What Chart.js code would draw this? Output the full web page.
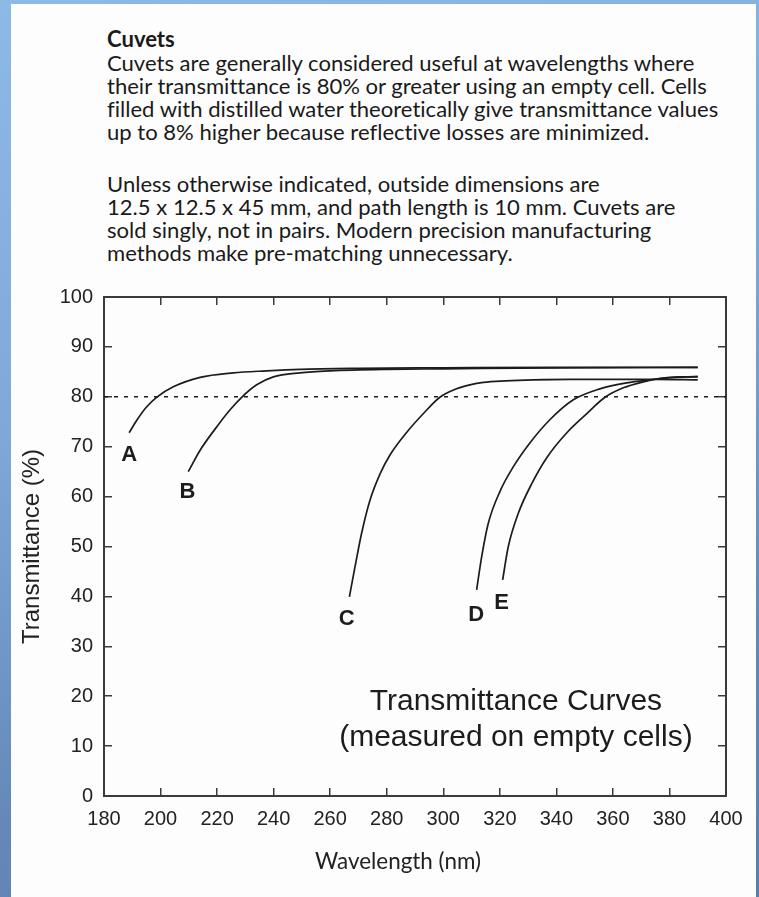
<!DOCTYPE html>
<html>
<head>
<meta charset="utf-8">
<title>Cuvets – transmittance curves</title>
<script src="https://cdn.jsdelivr.net/npm/chart.js@4.4.1/dist/chart.umd.min.js"></script>
<style>
  html, body { margin: 0; padding: 0; }
  body {
    width: 759px; height: 897px; overflow: hidden; position: relative;
    background: linear-gradient(165deg, #8db9e7 0%, #7ea8d8 40%, #6489b9 75%, #5a7eae 100%);
  }
  #sheet { position: absolute; left: 11px; top: 4px; width: 745px; height: 893px; background: #fdfdfd; }
  .copy {
    position: absolute; left: 107px; margin: 0;
    color: #1a1a1a; font-family: Lato, "Open Sans", sans-serif;
    font-variant-ligatures: none;
    white-space: pre; line-height: 23.3px;
  }
  #chartBox { position: absolute; left: 0; top: 280px; width: 759px; height: 617px; }
</style>
</head>
<body>
<div id="sheet"></div>
<div class="copy" id="para1"><b>Cuvets</b>
Cuvets are generally considered useful at wavelengths where
their transmittance is 80% or greater using an empty cell. Cells
filled with distilled water theoretically give transmittance values
up to 8% higher because reflective losses are minimized.</div>
<div class="copy" id="para2">Unless otherwise indicated, outside dimensions are
12.5 x 12.5 x 45 mm, and path length is 10 mm. Cuvets are
sold singly, not in pairs. Modern precision manufacturing
methods make pre-matching unnecessary.</div>
<div id="chartBox"><canvas id="chart" width="759" height="617"></canvas></div>

<script>
// Cell types and their measured transmittance (%) against wavelength (nm)
const curveNames = ['A', 'B', 'C', 'D', 'E'];

const wlA = [188.9, 191.6, 195.1, 198.6, 204.5, 214.0, 225.7, 237.5, 249.3, 270, 300, 340, 390];
const tA  = [72.8, 75.3, 78.0, 79.9, 82.0, 83.9, 84.8, 85.2, 85.5, 85.7, 85.8, 85.9, 85.9];

const wlB = [209.8, 214.0, 219.9, 224.6, 228.7, 234.0, 239.9, 249.3, 260, 280, 300, 340, 390];
const tB  = [65.0, 69.3, 74.0, 77.4, 79.9, 82.4, 84.0, 84.8, 85.2, 85.5, 85.6, 85.8, 85.9];

const wlC = [266.8, 268.8, 271.1, 274.1, 277.6, 281.2, 287.1, 292.9, 298.8, 304.7, 309.4, 314.2, 322, 331.9, 345, 360, 375, 390];
const tC  = [39.9, 46.0, 52.6, 59.3, 64.5, 68.4, 72.9, 76.6, 79.9, 81.6, 82.4, 82.9, 83.2, 83.4, 83.5, 83.5, 83.5, 83.4];

const wlD = [311.8, 313.6, 315.9, 320.1, 324.8, 330.7, 337.7, 346.0, 355.4, 364.9, 373.1, 380, 390];
const tD  = [41.3, 48.0, 54.6, 61.1, 66.0, 70.8, 75.4, 79.4, 81.6, 82.8, 83.4, 83.8, 84.1];

const wlE = [321.0, 323.0, 326.5, 331.3, 336.6, 343.7, 350.7, 357.2, 363.7, 370.8, 376.7, 383, 390];
const tE  = [43.3, 50.0, 56.6, 62.6, 67.8, 72.8, 76.6, 79.9, 81.8, 83.0, 83.7, 84.0, 84.0];

// 80 % usefulness threshold
const thresholdT = 80;

// Axis tick values
const xTickValues = [180, 200, 220, 240, 260, 280, 300, 320, 340, 360, 380, 400];
const yTickValues = [0, 10, 20, 30, 40, 50, 60, 70, 80, 90, 100];

// Where each curve's letter sits (wavelength, transmittance at the letter's baseline)
const labelWl = [188.9, 209.5, 265.8, 311.6, 320.6];
const labelT  = [67.2, 59.8, 34.3, 35.1, 37.4];

// Caption inside the plot
const captionLines = ['Transmittance Curves', '(measured on empty cells)'];
const captionWl = 325.7;
const captionT = [17.2, 10.0];

const xTitle = 'Wavelength (nm)';
const yTitle = 'Transmittance (%)';

// ---- text block sizing ----
const copyFont = 'Lato, "Open Sans", sans-serif';
const measureCtx = document.createElement('canvas').getContext('2d');
function widthAt(text, size, weight) {
  measureCtx.font = (weight || '') + ' ' + size + 'px ' + copyFont;
  return measureCtx.measureText(text).width;
}
const referenceLine = 'Cuvets are generally considered useful at wavelengths where';
const copySize = 16 * 589 / widthAt(referenceLine, 16);
const lineH = 23.3;
const baselineOffset = lineH / 2 + 0.387 * copySize;
const p1 = document.getElementById('para1');
const p2 = document.getElementById('para2');
[p1, p2].forEach(p => { p.style.fontSize = copySize + 'px'; });
p1.style.top = (47.5 - baselineOffset) + 'px';
p2.style.top = (191.7 - baselineOffset) + 'px';

const xTitleSize = 20 * 166 / widthAt(xTitle, 20);

// ---- chart ----
const ink = '#1c1c1c';
const tickFont = { family: '"Liberation Sans", Arial, Helvetica, sans-serif', size: 20 };

function zip(xs, ys) { return xs.map((v, i) => ({ x: v, y: ys[i] })); }

const curveSets = [[wlA, tA], [wlB, tB], [wlC, tC], [wlD, tD], [wlE, tE]].map((pair, i) => ({
  label: curveNames[i],
  data: zip(pair[0], pair[1]),
  borderColor: ink,
  borderWidth: 1.7,
  pointRadius: 0,
  cubicInterpolationMode: 'monotone',
  fill: false
}));

const thresholdSet = {
  label: 'threshold',
  data: [{ x: xTickValues[0], y: thresholdT }, { x: xTickValues[xTickValues.length - 1], y: thresholdT }],
  borderColor: ink,
  borderWidth: 1.6,
  borderDash: [4, 6],
  pointRadius: 0,
  fill: false
};

const axisLine = { display: true, color: '#3a3a3a', width: 2 };
const inwardTicks = { display: true, drawOnChartArea: false, drawTicks: true, tickLength: -8, color: '#3a3a3a', lineWidth: 1.5 };

const plotText = {
  id: 'plotText',
  afterDatasetsDraw(chart) {
    const { ctx } = chart;
    const x = chart.scales.x, y = chart.scales.y;
    ctx.save();
    ctx.fillStyle = ink;
    ctx.textAlign = 'center';
    ctx.textBaseline = 'alphabetic';
    ctx.font = 'bold 22px "Liberation Sans", Arial, sans-serif';
    curveNames.forEach((n, i) => ctx.fillText(n, x.getPixelForValue(labelWl[i]), y.getPixelForValue(labelT[i])));
    ctx.font = '30px "Liberation Sans", Arial, sans-serif';
    captionLines.forEach((t, i) => ctx.fillText(t, x.getPixelForValue(captionWl), y.getPixelForValue(captionT[i])));
    ctx.restore();
  },
  afterDraw(chart) {
    const { ctx, chartArea } = chart;
    ctx.save();
    ctx.fillStyle = '#222';
    ctx.textAlign = 'center';
    ctx.textBaseline = 'alphabetic';
    ctx.font = xTitleSize + 'px ' + copyFont;
    ctx.fillText(xTitle, (chartArea.left + chartArea.right) / 2 - 17, chart.height - 27.7);
    ctx.restore();
  }
};

new Chart(document.getElementById('chart'), {
  type: 'line',
  data: { datasets: [...curveSets, thresholdSet] },
  options: {
    responsive: false,
    animation: false,
    devicePixelRatio: 1,
    layout: { padding: { top: 17, right: 33, left: 0, bottom: 0 } },
    plugins: { legend: { display: false }, tooltip: { enabled: false } },
    scales: {
      x: {
        type: 'linear', position: 'bottom',
        min: xTickValues[0], max: xTickValues[xTickValues.length - 1],
        ticks: { stepSize: 20, padding: 19, color: '#222', font: tickFont, maxRotation: 0, autoSkip: false },
        grid: inwardTicks, border: axisLine,
        afterFit(s) { s.height = 101; s.paddingLeft = 0; s.paddingRight = 0; }
      },
      x2: {
        type: 'linear', position: 'top',
        min: xTickValues[0], max: xTickValues[xTickValues.length - 1],
        ticks: { stepSize: 20, display: false },
        grid: inwardTicks, border: axisLine,
        afterFit(s) { s.height = 0; s.paddingLeft = 0; s.paddingRight = 0; }
      },
      y: {
        type: 'linear', position: 'left',
        min: yTickValues[0], max: yTickValues[yTickValues.length - 1],
        ticks: { stepSize: 10, padding: 19, color: '#222', font: tickFont },
        grid: inwardTicks, border: axisLine,
        title: { display: true, text: yTitle, color: '#222', padding: { top: 17.6, bottom: 0 },
                 font: { family: '"Liberation Sans", Arial, Helvetica, sans-serif', size: 24 } },
        afterFit(s) { s.width = 104; s.paddingTop = 0; s.paddingBottom = 0; }
      },
      y2: {
        type: 'linear', position: 'right',
        min: yTickValues[0], max: yTickValues[yTickValues.length - 1],
        ticks: { stepSize: 10, display: false },
        grid: inwardTicks, border: axisLine,
        afterFit(s) { s.width = 0; s.paddingTop = 0; s.paddingBottom = 0; }
      }
    }
  },
  plugins: [plotText]
});
</script>
</body>
</html>
